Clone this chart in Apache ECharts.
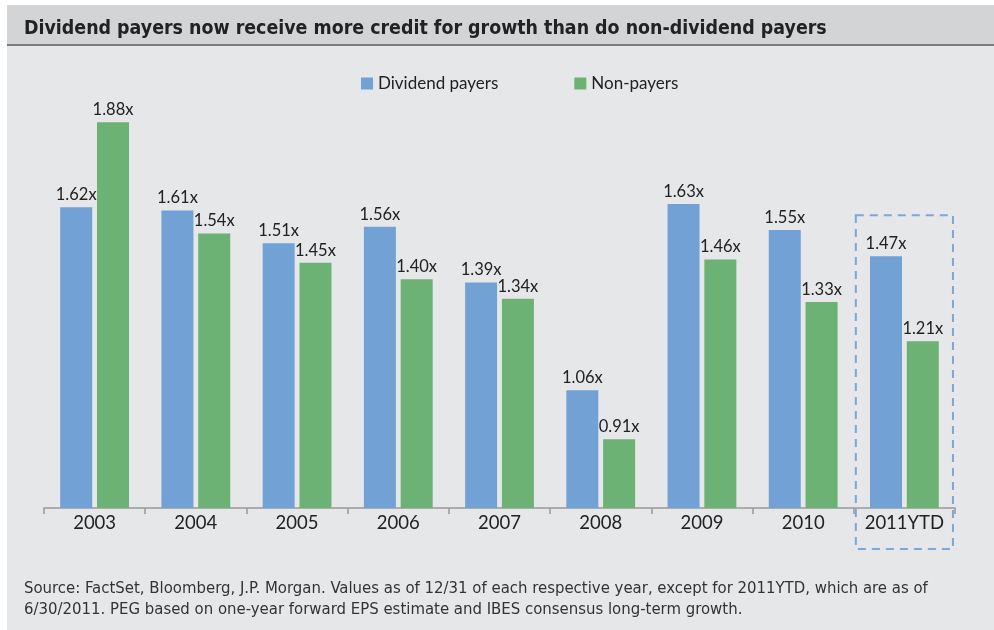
<!DOCTYPE html>
<html><head><meta charset="utf-8">
<script src="https://cdn.jsdelivr.net/npm/echarts@6/dist/echarts.min.js"></script>
<style>html,body{margin:0;padding:0;background:#fff}#c{width:994px;height:630px}</style>
</head><body><div id="c"></div>
<script>
const categories = ['2003','2004','2005','2006','2007','2008','2009','2010','2011YTD'];
const dividendPayers = [1.62,1.61,1.51,1.56,1.39,1.06,1.63,1.55,1.47];
const nonPayers = [1.88,1.54,1.45,1.40,1.34,0.91,1.46,1.33,1.21];
const seriesNames = ['Dividend payers','Non-payers'];
const titleText = 'Dividend payers now receive more credit for growth than do non-dividend payers';
const sourceLines = ['Source: FactSet, Bloomberg, J.P. Morgan. Values as of 12/31 of each respective year, except for 2011YTD, which are as of',
                     '6/30/2011. PEG based on one-year forward EPS estimate and IBES consensus long-term growth.'];

const chart = echarts.init(document.getElementById('c'), null, {renderer:'canvas'});
const lblFont = 'Lato, "Open Sans", sans-serif';
const narrow = '"Liberation Sans Narrow", "DejaVu Sans Condensed", sans-serif';
const label = {show:true, position:'top', distance:4, color:'#222', fontSize:16.5, fontFamily:lblFont,
  formatter: p => p.value.toFixed(2) + 'x'};
const baseGraphic = [
  {type:'rect', silent:true, z:-10, shape:{x:7,y:5,width:987,height:39}, style:{fill:'#d3d4d6'}},
  {type:'rect', silent:true, z:-10, shape:{x:7,y:44,width:987,height:2}, style:{fill:'#7a7b7d'}},
  {type:'rect', silent:true, z:-10, shape:{x:7,y:46,width:987,height:584}, style:{fill:'#e6e7e8'}},
  {type:'text', silent:true, left:24, top:578, style:{text:sourceLines.join('\n'), fill:'#333', font:'16.6px ' + narrow, lineHeight:21}}
];
chart.setOption({
  backgroundColor:'#ffffff',
  animation:false,
  title:{text:titleText, left:19, top:14, textStyle:{fontFamily:narrow, fontWeight:'bold', fontSize:19.4, color:'#222'}},
  legend:{top:70, left:356, itemWidth:12, itemHeight:12, itemGap:76, icon:'rect',
    textStyle:{fontSize:17, color:'#222', fontFamily:lblFont}},
  grid:{left:44, right:39, top:83, bottom:122},
  xAxis:{type:'category', data:categories,
    axisLine:{lineStyle:{color:'#999', width:1.5}},
    axisTick:{show:true, interval:0, length:6, lineStyle:{color:'#999', width:1.5}},
    axisLabel:{interval:0, color:'#222', fontSize:18.5, fontFamily:lblFont, margin:6}},
  yAxis:{type:'value', min:0.7, max:2.0, show:false, splitLine:{show:false}},
  series:[
    {name:seriesNames[0], type:'bar', data:dividendPayers, barWidth:32, barGap:'15%',
     itemStyle:{color:'#72a1d6'}, label:label},
    {name:seriesNames[1], type:'bar', data:nonPayers, barWidth:32,
     itemStyle:{color:'#6cb274'}, label:label}
  ],
  graphic: baseGraphic
});
// dashed highlight box around the last category
const cx = chart.convertToPixel({xAxisIndex:0}, categories[categories.length-1]);
const cx0 = chart.convertToPixel({xAxisIndex:0}, categories[categories.length-2]);
const bw = cx - cx0;
const topY = chart.convertToPixel({yAxisIndex:0}, dividendPayers[dividendPayers.length-1]) - 41;
chart.setOption({graphic: baseGraphic.concat([
  {type:'rect', silent:true, z:100, shape:{x:cx - bw*0.48, y:topY, width:bw*0.96, height:549-topY},
   style:{fill:'none', stroke:'#7ba7d9', lineWidth:2, lineDash:[8,6]}}
])});
</script></body></html>
